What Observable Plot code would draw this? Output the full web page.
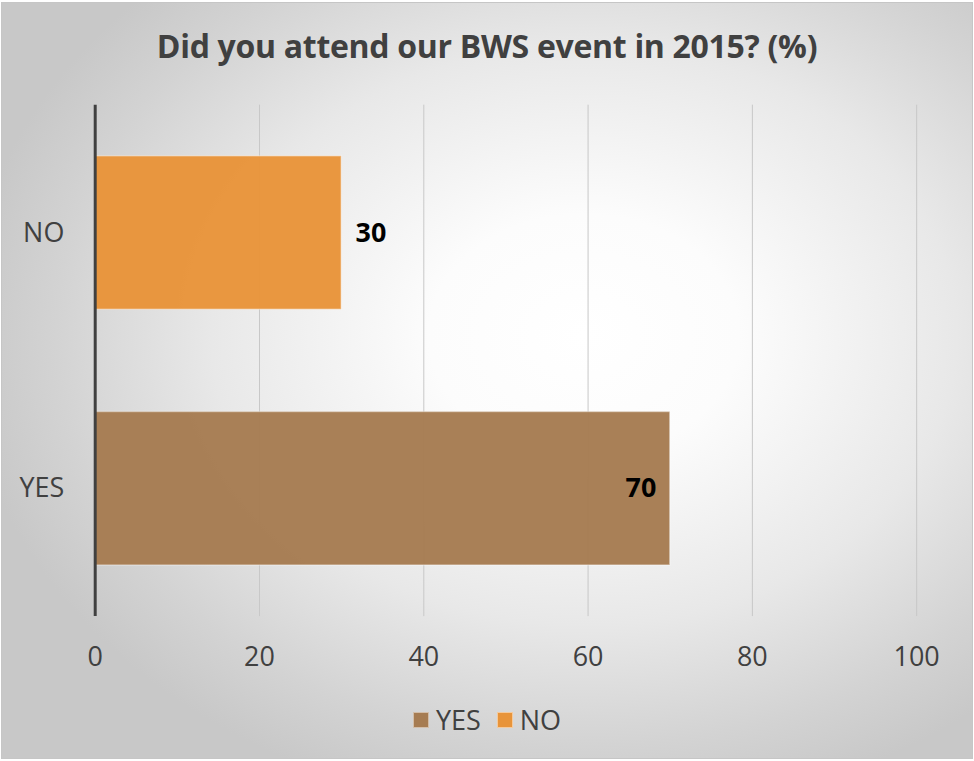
<!DOCTYPE html>
<html>
<head>
<meta charset="utf-8">
<script src="https://cdn.jsdelivr.net/npm/d3@7"></script>
<script src="https://cdn.jsdelivr.net/npm/@observablehq/plot@0.6"></script>
<style>
  html, body { margin: 0; padding: 0; background: #fff; }
  #chart {
    position: relative; width: 972px; height: 757px; margin: 2px 1px;
    border: 1px solid #c6c6c6; box-sizing: border-box; overflow: hidden;
    background: radial-gradient(ellipse 64% 64% at 60% 44%, #ffffff 0%, #fcfcfc 25%, #e8e8e8 60%, #d3d3d3 85%, #c8c8c8 100%);
    font-family: "Open Sans", sans-serif;
  }
  #title {
    position: absolute; left: 0; width: 100%; top: 21px; text-align: center;
    font-weight: 700; font-size: 32px; color: #404040; letter-spacing: -0.3px;
  }
  #plot { position: absolute; left: -1px; top: -3px; }
  #legend {
    position: absolute; left: 0; width: 100%; top: 698px; display: flex; justify-content: center;
    gap: 16px; font-size: 27px; color: #404040; align-items: center;
  }
  .item { display: flex; align-items: center; gap: 7px; }
  .sw { width: 16px; height: 16px; box-sizing: border-box; }
</style>
</head>
<body>
<div id="chart">
  <div id="title">Did you attend our BWS event in 2015? (%)</div>
  <div id="plot"></div>
  <div id="legend"></div>
</div>
<script>
const categories = ["NO", "YES"];
const values = [30, 70];
const legendOrder = ["YES", "NO"];
const colors = ["#a67c52", "#e8943a"];
const xTicks = [0, 20, 40, 60, 80, 100];

const data = categories.map((c, i) => ({category: c, value: values[i]}));

const plot = Plot.plot({
  width: 974,
  height: 700,
  marginTop: 105,
  marginBottom: 82,
  marginLeft: 94,
  marginRight: 56,
  style: {background: "transparent", fontFamily: "Open Sans, sans-serif", fontSize: "27px", color: "#404040", overflow: "visible"},
  x: {domain: [0, 100], ticks: xTicks, label: null, tickSize: 0, tickPadding: 30},
  y: {domain: categories, label: null, tickSize: 0, tickPadding: 31, paddingInner: 0.4, paddingOuter: 0.2, round: false},
  color: {domain: legendOrder, range: colors},
  marks: [
    Plot.gridX(xTicks, {stroke: "#c8c8c8", strokeOpacity: 1, strokeWidth: 1}),
    Plot.barX(data, {y: "category", x: "value", fill: "category", fillOpacity: 0.97, stroke: "#ffffff", strokeOpacity: 0.35, strokeWidth: 1.5}),
    Plot.ruleX([0], {stroke: "#404040", strokeWidth: 3}),
    Plot.text(data.filter(d => d.value < 50), {y: "category", x: "value", text: d => String(d.value), textAnchor: "start", dx: 14, fontWeight: "bold", fontSize: 27, fill: "#000"}),
    Plot.text(data.filter(d => d.value >= 50), {y: "category", x: "value", text: d => String(d.value), textAnchor: "end", dx: -14, fontWeight: "bold", fontSize: 27, fill: "#000"})
  ]
});
document.getElementById("plot").appendChild(plot);

const legend = document.getElementById("legend");
legendOrder.forEach((name, i) => {
  const item = document.createElement("div");
  item.className = "item";
  const sw = document.createElement("div");
  sw.className = "sw";
  sw.style.background = colors[i];
  sw.style.border = "1px solid rgba(255,255,255,0.5)";
  const lab = document.createElement("span");
  lab.textContent = name;
  item.appendChild(sw); item.appendChild(lab);
  legend.appendChild(item);
});
</script>
</body>
</html>
